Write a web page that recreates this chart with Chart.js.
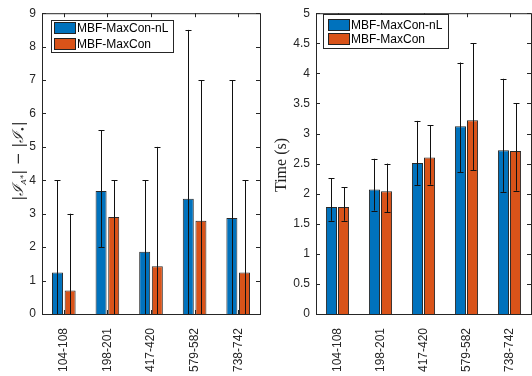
<!DOCTYPE html>
<html>
<head>
<meta charset="utf-8">
<script src="https://cdn.jsdelivr.net/npm/chart.js@4"></script>
<style>
  body { margin: 0; background: #fff; }
  .wrap { position: absolute; top: 0; width: 266px; height: 376px; }
</style>
</head>
<body>
<div class="wrap" style="left:0"><canvas id="diffChart" width="266" height="376"></canvas></div>
<div class="wrap" style="left:266px"><canvas id="timeChart" width="266" height="376"></canvas></div>
<script>
// data
const categories = ['104-108', '198-201', '417-420', '579-582', '738-742'];
const seriesNames = ['MBF-MaxCon-nL', 'MBF-MaxCon'];

const diffNL = [1.24, 3.68, 1.86, 3.45, 2.87];
const diffNLLow = [0, 2, 0, 0, 0];
const diffNLHigh = [4, 5.5, 4, 8.5, 7];
const diffMC = [0.70, 2.90, 1.43, 2.79, 1.24];
const diffMCLow = [0, 0, 0, 0, 0];
const diffMCHigh = [3, 4, 5, 7, 4];

const timeNL = [1.78, 2.07, 2.51, 3.12, 2.72];
const timeNLLow = [1.55, 1.72, 2.14, 2.36, 2.03];
const timeNLHigh = [2.26, 2.58, 3.21, 4.18, 3.91];
const timeMC = [1.78, 2.04, 2.60, 3.22, 2.71];
const timeMCLow = [1.55, 1.69, 2.15, 2.39, 2.05];
const timeMCHigh = [2.11, 2.50, 3.14, 4.50, 3.50];

const diffTicks = { max: 9, step: 1 };
const timeTicks = { max: 5, step: 0.5 };

const BLUE = '#0072BD';
const ORANGE = '#D95319';
const AXIS = '#262626';
const FONT = '"Liberation Sans", Arial, sans-serif';

// box, inward ticks, error bars, legend and y title
const matlabLook = {
    id: 'matlabLook',
    afterDraw(chart, args, opts) {
        const ctx = chart.ctx;
        const a = chart.chartArea;
        const xs = chart.scales.x, ys = chart.scales.y;

        // error bars
        ctx.save();
        ctx.strokeStyle = '#111';
        ctx.lineWidth = 1;
        opts.errors.forEach((err, i) => {
            const meta = chart.getDatasetMeta(i);
            meta.data.forEach((bar, j) => {
                const x = Math.round(bar.x) + 0.5;
                const yHi = ys.getPixelForValue(err.high[j]);
                const yLo = ys.getPixelForValue(err.low[j]);
                ctx.beginPath();
                ctx.moveTo(x, yLo);
                ctx.lineTo(x, yHi);
                ctx.moveTo(x - 3, Math.round(yHi) + 0.5);
                ctx.lineTo(x + 3, Math.round(yHi) + 0.5);
                if (err.low[j] > 0) {
                    ctx.moveTo(x - 3, Math.round(yLo) + 0.5);
                    ctx.lineTo(x + 3, Math.round(yLo) + 0.5);
                }
                ctx.stroke();
            });
        });

        // axes box and inward ticks
        ctx.strokeStyle = AXIS;
        ctx.strokeRect(a.left + 0.5, a.top + 0.5, a.right - a.left, a.bottom - a.top);
        ctx.beginPath();
        ys.ticks.forEach((t, i) => {
            const y = Math.round(ys.getPixelForTick(i)) + 0.5;
            ctx.moveTo(a.left, y); ctx.lineTo(a.left + 4, y);
            ctx.moveTo(a.right, y); ctx.lineTo(a.right - 4, y);
        });
        xs.ticks.forEach((t, i) => {
            const x = Math.round(xs.getPixelForTick(i)) + 0.5;
            ctx.moveTo(x, a.top); ctx.lineTo(x, a.top + 4);
            ctx.moveTo(x, a.bottom); ctx.lineTo(x, a.bottom - 4);
        });
        ctx.stroke();

        // legend
        const L = opts.legend;
        ctx.fillStyle = '#fff';
        ctx.fillRect(L.x, L.y, L.w, L.h);
        ctx.strokeStyle = AXIS;
        ctx.strokeRect(L.x + 0.5, L.y + 0.5, L.w, L.h);
        ctx.font = '12px ' + FONT;
        ctx.textBaseline = 'middle';
        [BLUE, ORANGE].forEach((c, i) => {
            const sy = L.y + L.sy + i * L.gap;
            ctx.fillStyle = c;
            ctx.fillRect(L.sx, sy, 21, 11);
            ctx.strokeStyle = '#222';
            ctx.strokeRect(L.sx + 0.5, sy + 0.5, 21, 11);
            ctx.fillStyle = '#000';
            ctx.fillText(seriesNames[i], L.tx, sy + 6.5);
        });

        // y title
        ctx.translate(opts.title.x, opts.title.y);
        ctx.rotate(-Math.PI / 2);
        ctx.fillStyle = AXIS;
        ctx.textBaseline = 'alphabetic';
        const parts = opts.title.parts;
        let total = 0;
        parts.forEach(p => { ctx.font = p.f; total += ctx.measureText(p.t).width; });
        let px = -total / 2;
        parts.forEach(p => {
            ctx.font = p.f;
            ctx.fillText(p.t, px, p.dy || 0);
            px += ctx.measureText(p.t).width;
        });
        ctx.restore();
    }
};

function makeChart(id, values, errs, ticks, yWidth, padRight, catPct, barPct, legend, title) {
    return new Chart(document.getElementById(id), {
        type: 'bar',
        data: {
            labels: categories,
            datasets: [
                { label: seriesNames[0], data: values[0], backgroundColor: BLUE },
                { label: seriesNames[1], data: values[1], backgroundColor: ORANGE }
            ]
        },
        options: {
            responsive: false,
            animation: false,
            devicePixelRatio: 1,
            layout: { padding: { left: 0, top: 8, right: padRight, bottom: 0 } },
            datasets: {
                bar: {
                    borderColor: '#2a2a2a',
                    borderWidth: 1,
                    categoryPercentage: catPct,
                    barPercentage: barPct
                }
            },
            plugins: {
                legend: { display: false },
                tooltip: { enabled: false },
                matlabLook: { errors: errs, legend: legend, title: title }
            },
            scales: {
                x: {
                    grid: { display: false },
                    border: { display: false },
                    ticks: {
                        minRotation: 90, maxRotation: 90, padding: 6,
                        color: AXIS, font: { family: FONT, size: 12 }
                    },
                    afterFit: s => { s.height = 62; }
                },
                y: {
                    min: 0, max: ticks.max,
                    grid: { display: false, drawTicks: false },
                    border: { display: false },
                    ticks: {
                        stepSize: ticks.step, padding: 6,
                        color: AXIS, font: { family: FONT, size: 12 },
                        callback: v => String(v)
                    },
                    afterFit: s => { s.width = yWidth; }
                }
            }
        },
        plugins: [matlabLook]
    });
}

const scriptFont = 'italic 15px "DejaVu Serif", serif';
makeChart('diffChart', [diffNL, diffMC],
    [{ low: diffNLLow, high: diffNLHigh }, { low: diffMCLow, high: diffMCHigh }],
    diffTicks, 42, 6, 0.58, 0.87,
    { x: 51, y: 20, w: 122, h: 32, sx: 54, sy: 2, gap: 16, tx: 77 },
    { x: 23, y: 161, parts: [
        { t: '|', f: '15px "DejaVu Serif", serif' },
        { t: 'ℐ', f: scriptFont },
        { t: 'A*', f: 'italic 8px "DejaVu Serif", serif', dy: 3 },
        { t: '| − |', f: '15px "DejaVu Serif", serif' },
        { t: 'ℐ', f: scriptFont },
        { t: '•', f: '9px "DejaVu Serif", serif', dy: 3 },
        { t: '|', f: '15px "DejaVu Serif", serif' }
    ] });

makeChart('timeChart', [timeNL, timeMC],
    [{ low: timeNLLow, high: timeNLHigh }, { low: timeMCLow, high: timeMCHigh }],
    timeTicks, 50, 1, 0.56, 0.92,
    { x: 57, y: 14, w: 125, h: 34, sx: 62, sy: 5, gap: 14, tx: 85 },
    { x: 20, y: 165, parts: [
        { t: 'Time (s)', f: '16px "Liberation Serif", "Times New Roman", serif' }
    ] });
</script>
</body>
</html>
